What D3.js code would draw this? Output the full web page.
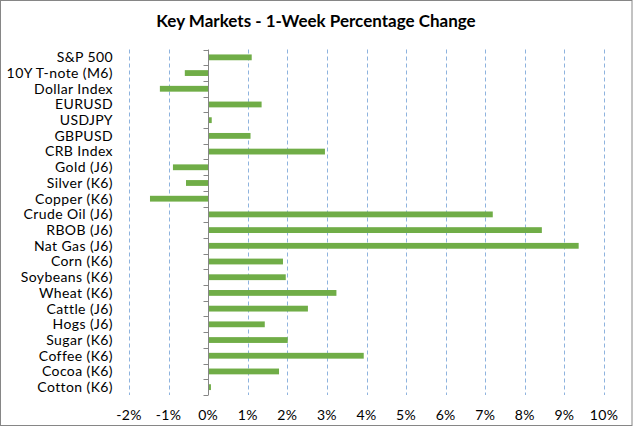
<!DOCTYPE html>
<html>
<head>
<meta charset="utf-8">
<script src="https://cdn.jsdelivr.net/npm/d3@7"></script>
<style>
  body { margin: 0; background: #fff; }
  svg { display: block; font-family: Lato, "Open Sans", sans-serif; }
</style>
</head>
<body>
<svg id="chart" width="633" height="427"></svg>
<script>
// categories, top to bottom
var markets = ["S&P 500", "10Y T-note (M6)", "Dollar Index", "EURUSD", "USDJPY", "GBPUSD",
    "CRB Index", "Gold (J6)", "Silver (K6)", "Copper (K6)", "Crude Oil (J6)", "RBOB (J6)",
    "Nat Gas (J6)", "Corn (K6)", "Soybeans (K6)", "Wheat (K6)", "Cattle (J6)", "Hogs (J6)",
    "Sugar (K6)", "Coffee (K6)", "Cocoa (K6)", "Cotton (K6)"];
// 1-week change, percent
var weeklyChange = [1.10, -0.59, -1.22, 1.35, 0.09, 1.07,
    2.95, -0.89, -0.56, -1.47, 7.19, 8.43,
    9.36, 1.89, 1.96, 3.24, 2.52, 1.43,
    2.01, 3.93, 1.79, 0.07];
var xTicks = [-2, -1, 0, 1, 2, 3, 4, 5, 6, 7, 8, 9, 10];

var svg = d3.select("#chart");
var W = 633, H = 427;
var plot = {left: 129, right: 604, top: 49.5, bottom: 395};

// outer chart border
svg.append("rect")
    .attr("x", 0.5).attr("y", 0.5)
    .attr("width", W - 1.5).attr("height", H - 2)
    .attr("fill", "#fff").attr("stroke", "#868686");

svg.append("text")
    .attr("x", 316).attr("y", 27)
    .attr("text-anchor", "middle")
    .attr("font-size", 17).attr("font-weight", "bold")
    .attr("fill", "#000")
    .text("Key Markets - 1-Week Percentage Change");

var x = d3.scaleLinear().domain([-2, 10]).range([plot.left, plot.right]);
var y = d3.scaleBand().domain(markets).range([plot.top, plot.bottom]).paddingInner(0.63).paddingOuter(0.315);

// dashed vertical gridlines (0 is covered by the axis line)
svg.append("g").selectAll("line")
    .data(xTicks.filter(function(d){ return d !== 0; }))
    .enter().append("line")
    .attr("x1", function(d){ return Math.round(x(d)) + 0.5; })
    .attr("x2", function(d){ return Math.round(x(d)) + 0.5; })
    .attr("y1", plot.top).attr("y2", plot.bottom)
    .attr("stroke", "#8eb3de").attr("stroke-width", 1)
    .attr("stroke-dasharray", "4,3");

// bars
svg.append("g").selectAll("rect")
    .data(markets)
    .enter().append("rect")
    .attr("x", function(d, i){ return x(Math.min(0, weeklyChange[i])); })
    .attr("y", function(d){ return y(d); })
    .attr("width", function(d, i){ return Math.abs(x(weeklyChange[i]) - x(0)); })
    .attr("height", y.bandwidth())
    .attr("fill", "#70ad47");

// category axis drawn at 0
var zeroX = Math.round(x(0)) + 0.5;
var axisG = svg.append("g");
axisG.append("line")
    .attr("x1", zeroX).attr("x2", zeroX)
    .attr("y1", plot.top).attr("y2", plot.bottom)
    .attr("stroke", "#868686");
var step = y.step();
var bounds = d3.range(markets.length + 1).map(function(i){ return plot.top + i * step; });
axisG.selectAll("line.tick")
    .data(bounds)
    .enter().append("line")
    .attr("class", "tick")
    .attr("x1", zeroX - 5).attr("x2", zeroX)
    .attr("y1", function(d){ return Math.round(d) + 0.5; })
    .attr("y2", function(d){ return Math.round(d) + 0.5; })
    .attr("stroke", "#868686");

// category labels on the far left
svg.append("g").selectAll("text")
    .data(markets)
    .enter().append("text")
    .attr("x", 113)
    .attr("y", function(d){ return y(d) + y.bandwidth() / 2; })
    .attr("dy", "0.35em")
    .attr("text-anchor", "end")
    .attr("font-size", 14)
    .attr("letter-spacing", 0.4)
    .attr("fill", "#000")
    .text(function(d){ return d; });

// value axis labels
svg.append("g").selectAll("text")
    .data(xTicks)
    .enter().append("text")
    .attr("x", function(d){ return x(d); })
    .attr("y", 415)
    .attr("dy", "0.35em")
    .attr("text-anchor", "middle")
    .attr("font-size", 14)
    .attr("letter-spacing", 0.3)
    .attr("fill", "#000")
    .text(function(d){ return d + "%"; });
</script>
</body>
</html>
